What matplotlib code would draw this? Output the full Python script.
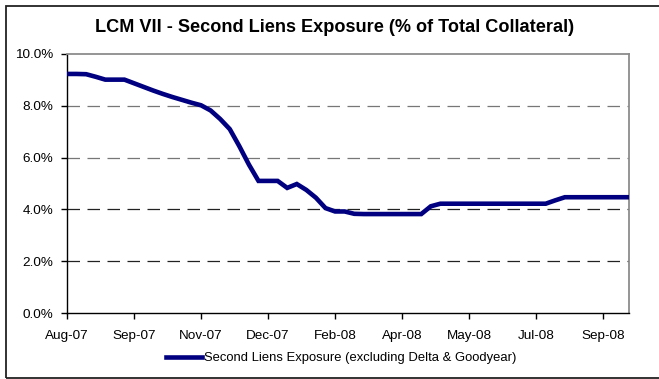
import matplotlib
matplotlib.use('Agg')
import matplotlib.pyplot as plt
from matplotlib.patches import Rectangle
from matplotlib.ticker import FuncFormatter

plt.rcParams['font.family'] = ['Liberation Sans', 'DejaVu Sans']

title = "LCM VII - Second Liens Exposure (% of Total Collateral)"
series_label = "Second Liens Exposure (excluding Delta & Goodyear)"
tick_labels = ["Aug-07", "Sep-07", "Nov-07", "Dec-07", "Feb-08",
               "Apr-08", "May-08", "Jul-08", "Sep-08"]
exposure = [9.23, 9.23, 9.22, 9.12, 9.01, 9.01, 9.01, 8.87, 8.73, 8.59,
            8.46, 8.34, 8.23, 8.12, 8.02, 7.82, 7.49, 7.10, 6.44, 5.73,
            5.10, 5.10, 5.10, 4.83, 4.98, 4.75, 4.45, 4.05, 3.92, 3.92,
            3.83, 3.82, 3.82, 3.82, 3.82, 3.82, 3.82, 3.82, 4.12, 4.22,
            4.22, 4.22, 4.22, 4.22, 4.22, 4.22, 4.22, 4.22, 4.22, 4.22,
            4.22, 4.35, 4.47, 4.47, 4.47, 4.47, 4.47, 4.47, 4.47, 4.47]
y_ticks = [0, 2, 4, 6, 8, 10]
tick_step = 7

fig = plt.figure(figsize=(6.59, 3.79), dpi=100)
fig.patch.set_facecolor('white')
fig.patches.append(Rectangle((5.5 / 659, 1 - 378 / 379), 2, (378 - 5.5) / 379,
                             transform=fig.transFigure, fill=False,
                             edgecolor='#222222', linewidth=1.3))

ax = fig.add_axes([67 / 659, 1 - 313 / 379, (629 - 67) / 659, (313 - 54) / 379])
x = list(range(len(exposure)))
line, = ax.plot(x, exposure, color='#000080', linewidth=3.3,
                solid_joinstyle='miter', label=series_label, zorder=3)

ax.set_ylim(0, 10)
ax.set_xlim(0, 58.7)
ax.set_yticks(y_ticks)
ax.yaxis.set_major_formatter(FuncFormatter(lambda v, p: f"{v:.1f}%"))
ax.set_xticks(list(range(0, tick_step * len(tick_labels), tick_step)))
ax.set_xticklabels(tick_labels)

for v in y_ticks[1:-1]:
    c = '#222222' if v <= 4 else '#777777'
    ax.axhline(v, color=c, linewidth=0.9, linestyle=(0, (10, 6)), zorder=1)

for s in ['top', 'right']:
    ax.spines[s].set_color('#8c8c8c')
    ax.spines[s].set_linewidth(1.3)
for s in ['left', 'bottom']:
    ax.spines[s].set_color('black')
    ax.spines[s].set_linewidth(1.0)

ax.tick_params(axis='both', direction='out', length=4, width=1, colors='black',
               labelsize=9.7)
ax.tick_params(axis='y', pad=6)
ax.tick_params(axis='x', pad=8)

fig.text(0.5 + 5 / 659, 1 - 28 / 379, title, ha='center', va='center',
         fontsize=13.1, fontweight='bold')

fig.legend(handles=[line], loc='center', bbox_to_anchor=(341 / 659, 1 - 358 / 379),
           frameon=False, fontsize=9.4, handlelength=2.8, handletextpad=0.15)

fig.savefig('out.png', dpi=100, facecolor='white')
